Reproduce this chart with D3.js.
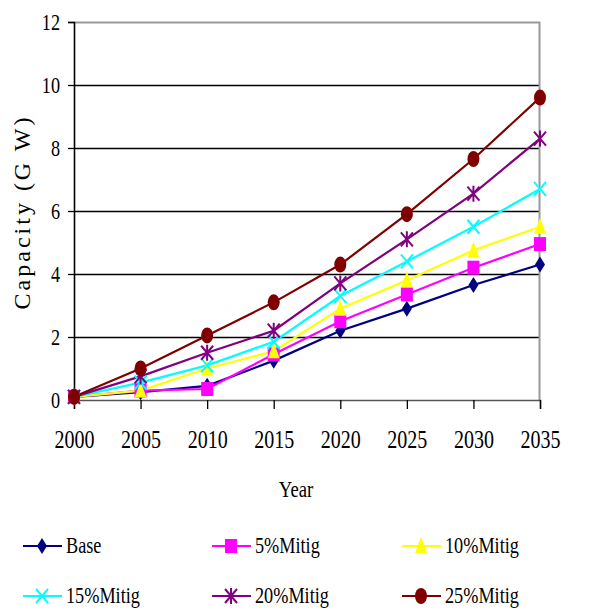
<html>
<head>
<meta charset="utf-8">
<style>
  body { margin: 0; background: #fff; }
  svg text { font-family: "Liberation Serif", "Times New Roman", serif; fill: #000; }
</style>
</head>
<body>
<script src="https://d3js.org/d3.v7.min.js"></script>
<script>
var W = 596, H = 614;

var years = [2000, 2005, 2010, 2015, 2020, 2025, 2030, 2035];
var yTicks = [0, 2, 4, 6, 8, 10, 12];
var names = ["Base", "5%Mitig", "10%Mitig", "15%Mitig", "20%Mitig", "25%Mitig"];
var colours = ["#000080", "#ff00ff", "#ffff00", "#00ffff", "#800080", "#800000"];
var shapes = ["diamond", "square", "triangle", "x", "star", "circle"];

var base   = [0.1, 0.25, 0.45, 1.25, 2.2, 2.9, 3.65, 4.3];
var mit5   = [0.1, 0.3, 0.35, 1.45, 2.5, 3.35, 4.2, 4.95];
var mit10  = [0.1, 0.3, 1.0, 1.55, 2.9, 3.8, 4.75, 5.5];
var mit15  = [0.1, 0.55, 1.1, 1.85, 3.3, 4.4, 5.5, 6.7];
var mit20  = [0.1, 0.75, 1.5, 2.2, 3.7, 5.1, 6.55, 8.3];
var mit25  = [0.1, 1.0, 2.05, 3.1, 4.3, 5.9, 7.65, 9.6];
var series = [base, mit5, mit10, mit15, mit20, mit25];

var svg = d3.select("body").append("svg").attr("width", W).attr("height", H);

var x = d3.scaleLinear().domain([2000, 2035]).range([74, 540]);
var y = d3.scaleLinear().domain([0, 12]).range([400, 22]);

// grid lines
svg.selectAll(".grid").data(yTicks.filter(function(d){ return d > 0 && d < 12; }))
  .enter().append("line")
  .attr("x1", x(2000)).attr("x2", x(2035))
  .attr("y1", function(d){ return Math.round(y(d)) + 0.5; })
  .attr("y2", function(d){ return Math.round(y(d)) + 0.5; })
  .attr("stroke", "#000").attr("stroke-width", 1.3);

// plot border top/right
svg.append("path")
  .attr("d", "M" + x(2000) + "," + (y(12) + 0.5) + "H" + (x(2035) - 0.5) + "V" + y(0))
  .attr("fill", "none").attr("stroke", "#999").attr("stroke-width", 2);

// y axis
var yAxis = svg.append("g").attr("transform", "translate(" + x(2000) + ",0)")
  .call(d3.axisLeft(y).tickValues(yTicks).tickSize(6).tickPadding(0));
yAxis.attr("font-family", null);
yAxis.select(".domain").attr("stroke", "#000").attr("stroke-width", 1.6);
yAxis.selectAll(".tick line").attr("stroke", "#000").attr("stroke-width", 1.3);
yAxis.selectAll("text").attr("font-size", 24).attr("x", 0).attr("dy", "0.33em")
  .attr("transform", "translate(-14,0) scale(0.76,1)");

// x axis
var xAxis = svg.append("g").attr("transform", "translate(0," + y(0) + ")")
  .call(d3.axisBottom(x).tickValues(years).tickFormat(d3.format("d")).tickSize(9).tickPadding(0));
xAxis.attr("font-family", null);
xAxis.select(".domain").attr("stroke", "#555").attr("stroke-width", 1.6);
xAxis.selectAll(".tick line").attr("stroke", "#000").attr("stroke-width", 1.3);
xAxis.selectAll("text").attr("font-size", 26).attr("y", 0).attr("dy", 0)
  .attr("transform", "translate(0,48) scale(0.77,1)");

// axis titles
svg.append("text").attr("transform", "translate(30,212) rotate(-90)")
  .attr("text-anchor", "middle").attr("font-size", 24).attr("letter-spacing", 3)
  .text("Capacity (G W)");
svg.append("g").attr("transform", "translate(296,497)")
  .append("text").attr("text-anchor", "middle").attr("font-size", 24)
  .attr("transform", "scale(0.78,1)").text("Year");

function marker(g, shape, colour) {
  if (shape === "diamond") {
    g.append("path").attr("d", "M0,-8L5,0L0,8L-5,0Z").attr("fill", colour);
  } else if (shape === "square") {
    g.append("rect").attr("x", -6).attr("y", -7).attr("width", 12).attr("height", 14).attr("fill", colour);
  } else if (shape === "triangle") {
    g.append("path").attr("d", "M0,-9L6,7L-6,7Z").attr("fill", colour);
  } else if (shape === "x") {
    g.append("path").attr("d", "M-6,-7L6,7M-6,7L6,-7").attr("stroke", colour).attr("stroke-width", 2);
  } else if (shape === "star") {
    g.append("path").attr("d", "M-6,-7L6,7M-6,7L6,-7M0,-8V8").attr("stroke", colour).attr("stroke-width", 2);
  } else {
    g.append("ellipse").attr("rx", 6).attr("ry", 8).attr("fill", colour);
  }
}

var line = d3.line().x(function(d, i){ return x(years[i]); }).y(function(d){ return y(d); });

series.forEach(function(s, k) {
  svg.append("path").datum(s).attr("d", line)
    .attr("fill", "none").attr("stroke", colours[k]).attr("stroke-width", 2.2);
});
series.forEach(function(s, k) {
  s.forEach(function(v, i) {
    var g = svg.append("g").attr("transform", "translate(" + x(years[i]) + "," + y(v) + ")");
    marker(g, shapes[k], colours[k]);
  });
});

// legend
var legX = [23, 212, 402], legY = [546, 596];
names.forEach(function(n, k) {
  var lx = legX[k % 3], ly = legY[Math.floor(k / 3)];
  svg.append("line").attr("x1", lx).attr("x2", lx + 39).attr("y1", ly).attr("y2", ly)
    .attr("stroke", colours[k]).attr("stroke-width", 2.2);
  var g = svg.append("g").attr("transform", "translate(" + (lx + 19) + "," + ly + ")");
  marker(g, shapes[k], colours[k]);
  svg.append("g").attr("transform", "translate(" + (lx + 43) + "," + (ly + 7) + ")")
    .append("text").attr("font-size", 24).attr("transform", "scale(0.76,1)").text(n);
});
</script>
</body>
</html>
